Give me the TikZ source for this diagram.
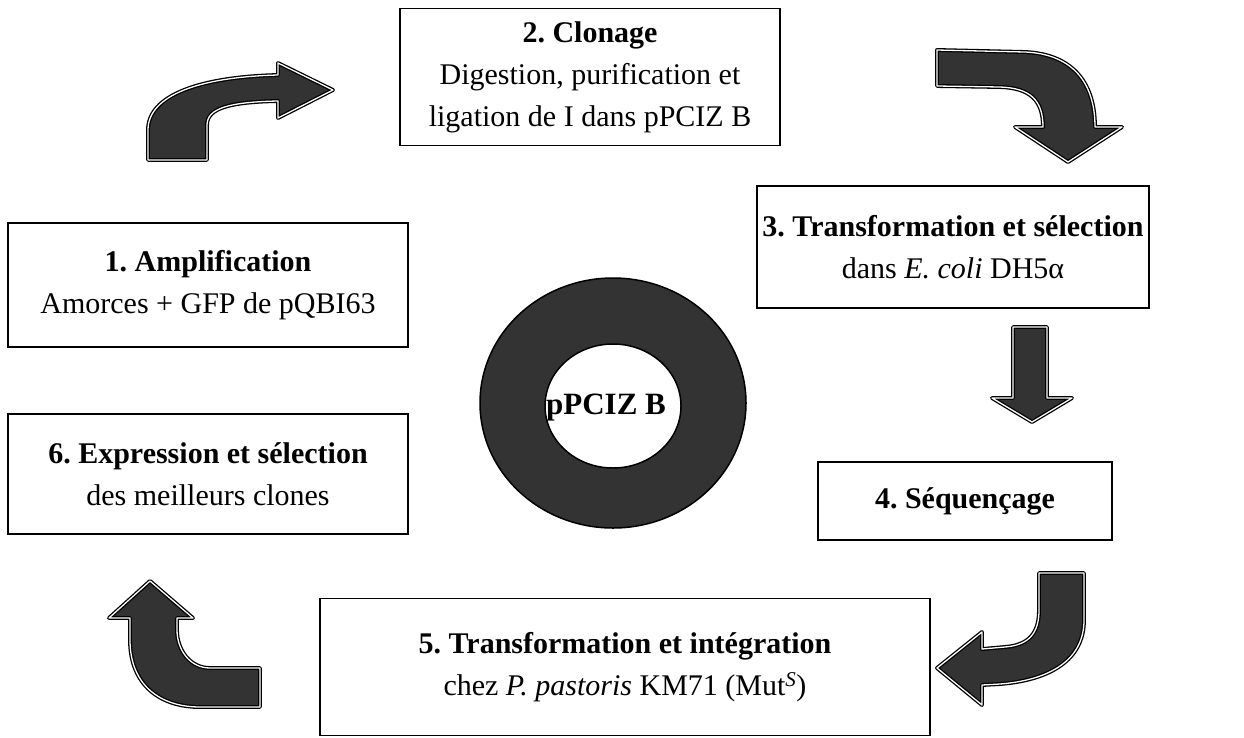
\documentclass[tikz,border=0pt]{standalone}
\usepackage{fontspec}
\setmainfont{Liberation Serif}
\usetikzlibrary{positioning}
\frenchspacing

\tikzset{
  stepbox/.style={draw, line width=1.6pt, align=center, inner sep=4pt,
    font=\fontsize{30}{42}\selectfont},
  bentarrow/.style={fill=black!80, draw=black, line width=1.3pt, double=white,
    double distance=1.3pt, line join=round},
}

\begin{document}
\begin{tikzpicture}[x=1pt, y=-1pt]  % pixel-like units, y grows downwards
    \useasboundingbox (0,0) rectangle (1244,737);

    % the six steps
    \node[stepbox, minimum width=400pt, minimum height=124pt] (ampli) at (208,285)
        {\textbf{1. Amplification}\\Amorces + GFP de pQBI63};
    \node[stepbox, minimum width=380pt, minimum height=137pt] (clonage) at (590,77)
        {\textbf{2. Clonage}\\Digestion, purification et\\ligation de I dans pPCIZ B};
    \node[stepbox, minimum width=392pt, minimum height=122pt] (transfo) at (953,247)
        {\textbf{3. Transformation et sélection}\\dans \textit{E. coli} DH5α};
    \node[stepbox, minimum width=294pt, minimum height=78pt] (sequence) at (965,501)
        {\textbf{4. Séquençage}};
    \node[stepbox, minimum width=610pt, minimum height=137pt] (integ) at (625,667)
        {\textbf{5. Transformation et intégration}\\chez \textit{P. pastoris} KM71 (Mut\textsuperscript{\textit{S}})};
    \node[stepbox, minimum width=400pt, minimum height=120pt] (express) at (208,474)
        {\textbf{6. Expression et sélection}\\des meilleurs clones};

    % plasmid ring
    \fill[black!80, even odd rule] (613,403) ellipse [x radius=133, y radius=125]
        (613,406) ellipse [x radius=68, y radius=62];
    \draw[line width=1.5pt] (613,403) ellipse [x radius=133, y radius=125];
    \draw[line width=1.5pt] (613,406) ellipse [x radius=68, y radius=62];
    \node[font=\fontsize{31}{36}\selectfont\bfseries] (plasmid) at (606,408) {pPCIZ B};

    % bent block arrows between the steps
    \draw[bentarrow] (148,160) -- (207,160) -- (207,125)
        .. controls (207,108) and (230,102) .. (278,101) -- (278,118) -- (333,90)
        -- (278,63) -- (278,75) .. controls (200,77) and (148,95) .. (148,130) -- cycle;
    \draw[bentarrow] (937,50) -- (1025,52) .. controls (1070,54) and (1095,80) .. (1095,127)
        -- (1122,127) -- (1068,162) -- (1015,127) -- (1043,127)
        .. controls (1043,100) and (1030,88) .. (1000,87) -- (937,86) -- cycle;
    \draw[bentarrow] (1013,327) -- (1047,327) -- (1047,398) -- (1072,398) -- (1032,422)
        -- (992,398) -- (1013,398) -- cycle;
    \draw[bentarrow] (1039,573) -- (1084,573) -- (1084,620)
        .. controls (1084,660) and (1050,680) .. (1000,684) -- (982,685) -- (982,705)
        -- (937,668) -- (982,632) -- (982,649) -- (1005,647)
        .. controls (1030,645) and (1039,632) .. (1039,610) -- cycle;
    \draw[bentarrow] (260,668) -- (210,668) .. controls (190,668) and (177,650) .. (177,630)
        -- (177,618) -- (193,618) -- (150,581) -- (109,618) -- (130,618) -- (130,640)
        .. controls (130,685) and (160,707) .. (200,707) -- (260,707) -- cycle;
\end{tikzpicture}
\end{document}
